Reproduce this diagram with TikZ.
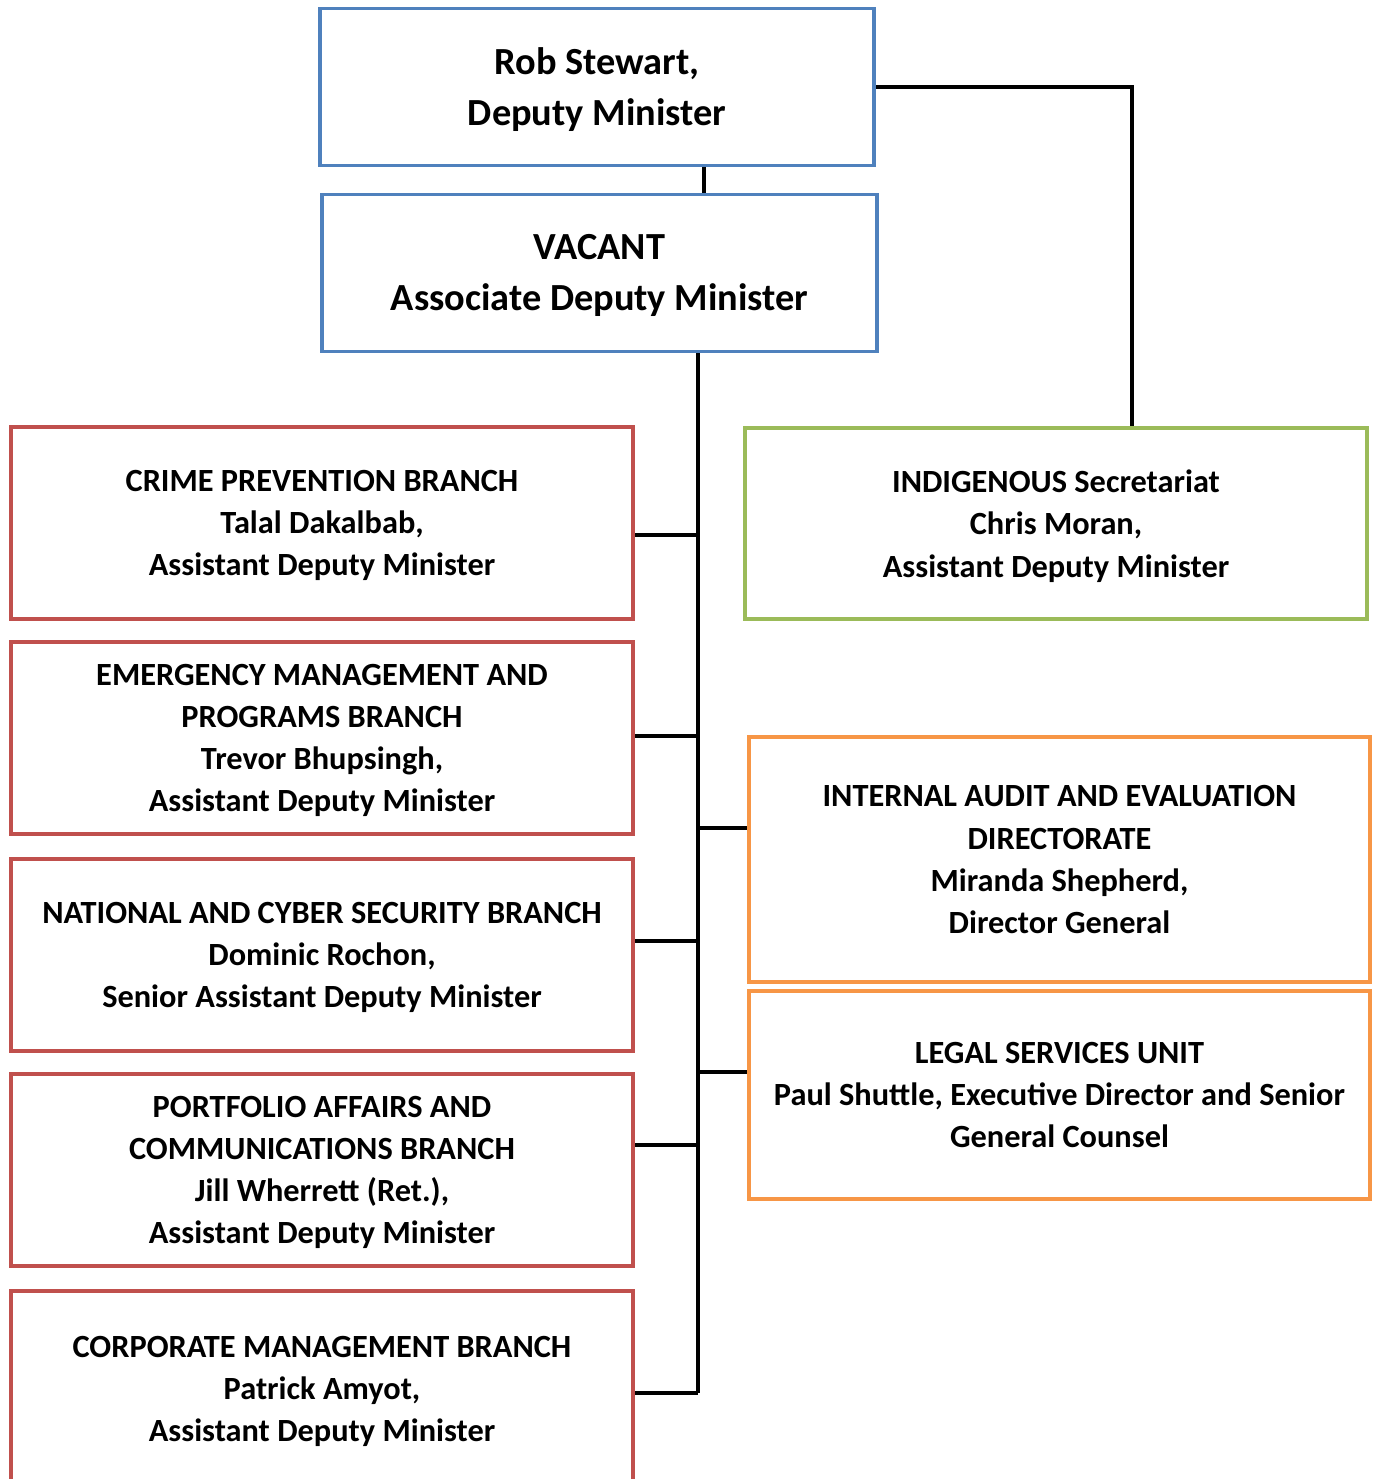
\documentclass[tikz,border=0pt]{standalone}
\usepackage{fontspec}
\setmainfont{Carlito}
\usetikzlibrary{positioning}
\definecolor{dmblue}{HTML}{4F81BD}
\definecolor{brred}{HTML}{C0504D}
\definecolor{secgreen}{HTML}{9BBB59}
\definecolor{diorange}{HTML}{F79646}

\begin{document}
\begin{tikzpicture}[x=0.01cm, y=-0.01cm,
      box/.style={draw, line width=1.1pt, inner sep=0pt, align=center,
                  font=\bfseries\fontsize{9.2}{12}\selectfont, text depth=-1.2pt},
      topbox/.style={box, draw=dmblue, minimum width=5.54cm, minimum height=1.57cm,
                     font=\bfseries\fontsize{10.9}{14.5}\selectfont, text depth=0.3pt},
      redbox/.style={box, draw=brred, minimum width=6.22cm, minimum height=1.92cm},
      greenbox/.style={box, draw=secgreen, minimum width=6.22cm, minimum height=1.91cm},
      orangebox/.style={box, draw=diorange, minimum width=6.21cm},
      link/.style={line width=1.1pt, black}
    ]
    \useasboundingbox (0,0) rectangle (1377,1479);
    \clip (0,0) rectangle (1377,1479);

    %% ---- top of the chart ----
    \node[topbox] at (597,87)    (dm)  {Rob Stewart,\\Deputy Minister};
    \node[topbox] at (599.5,273) (adm) {VACANT\\Associate Deputy Minister};

    %% ---- branches (left column) ----
    \node[redbox] at (322,523)  (crime) {CRIME PREVENTION BRANCH\\Talal Dakalbab,\\Assistant Deputy Minister};
    \node[redbox] at (322,738)  (emerg) {EMERGENCY MANAGEMENT AND\\PROGRAMS BRANCH\\Trevor Bhupsingh,\\Assistant Deputy Minister};
    \node[redbox] at (322,955)  (cyber) {NATIONAL AND CYBER SECURITY BRANCH\\Dominic Rochon,\\Senior Assistant Deputy Minister};
    \node[redbox] at (322,1170) (port)  {PORTFOLIO AFFAIRS AND\\COMMUNICATIONS BRANCH\\Jill Wherrett (Ret.),\\Assistant Deputy Minister};
    \node[redbox, minimum height=1.96cm] at (322,1389) (corp)
          {CORPORATE MANAGEMENT BRANCH\\Patrick Amyot,\\Assistant Deputy Minister};

    %% ---- right column ----
    \node[greenbox] at (1056,523.5) (indig) {INDIGENOUS Secretariat\\Chris Moran,\\Assistant Deputy Minister};
    \node[orangebox, minimum height=2.45cm] at (1059.5,859.5) (audit)
          {INTERNAL AUDIT AND EVALUATION\\DIRECTORATE\\Miranda Shepherd,\\Director General};
    \node[orangebox, minimum height=2.08cm] at (1059.5,1095) (legal)
          {LEGAL SERVICES UNIT\\Paul Shuttle, Executive Director and Senior\\General Counsel};

    %% ---- connectors ----
    \coordinate (trunk) at (698,0);
    \coordinate (sec)   at (1132,0);

    \draw[link] (dm.south -| 704,0) -- (adm.north -| 704,0);
    \draw[link] (dm.east) -| (sec |- indig.north);
    \draw[link] (adm.south -| trunk) -- (trunk |- 0,1393);

    %% branches into the trunk
    \foreach \n/\y in {crime/535, emerg/736, cyber/941, port/1145, corp/1393}
      \draw[link] (\n.east |- 0,\y) -- (trunk |- 0,\y);
    \foreach \n/\y in {audit/828, legal/1072}
      \draw[link] (trunk |- 0,\y) -- (\n.west |- 0,\y);

  \end{tikzpicture}
\end{document}
